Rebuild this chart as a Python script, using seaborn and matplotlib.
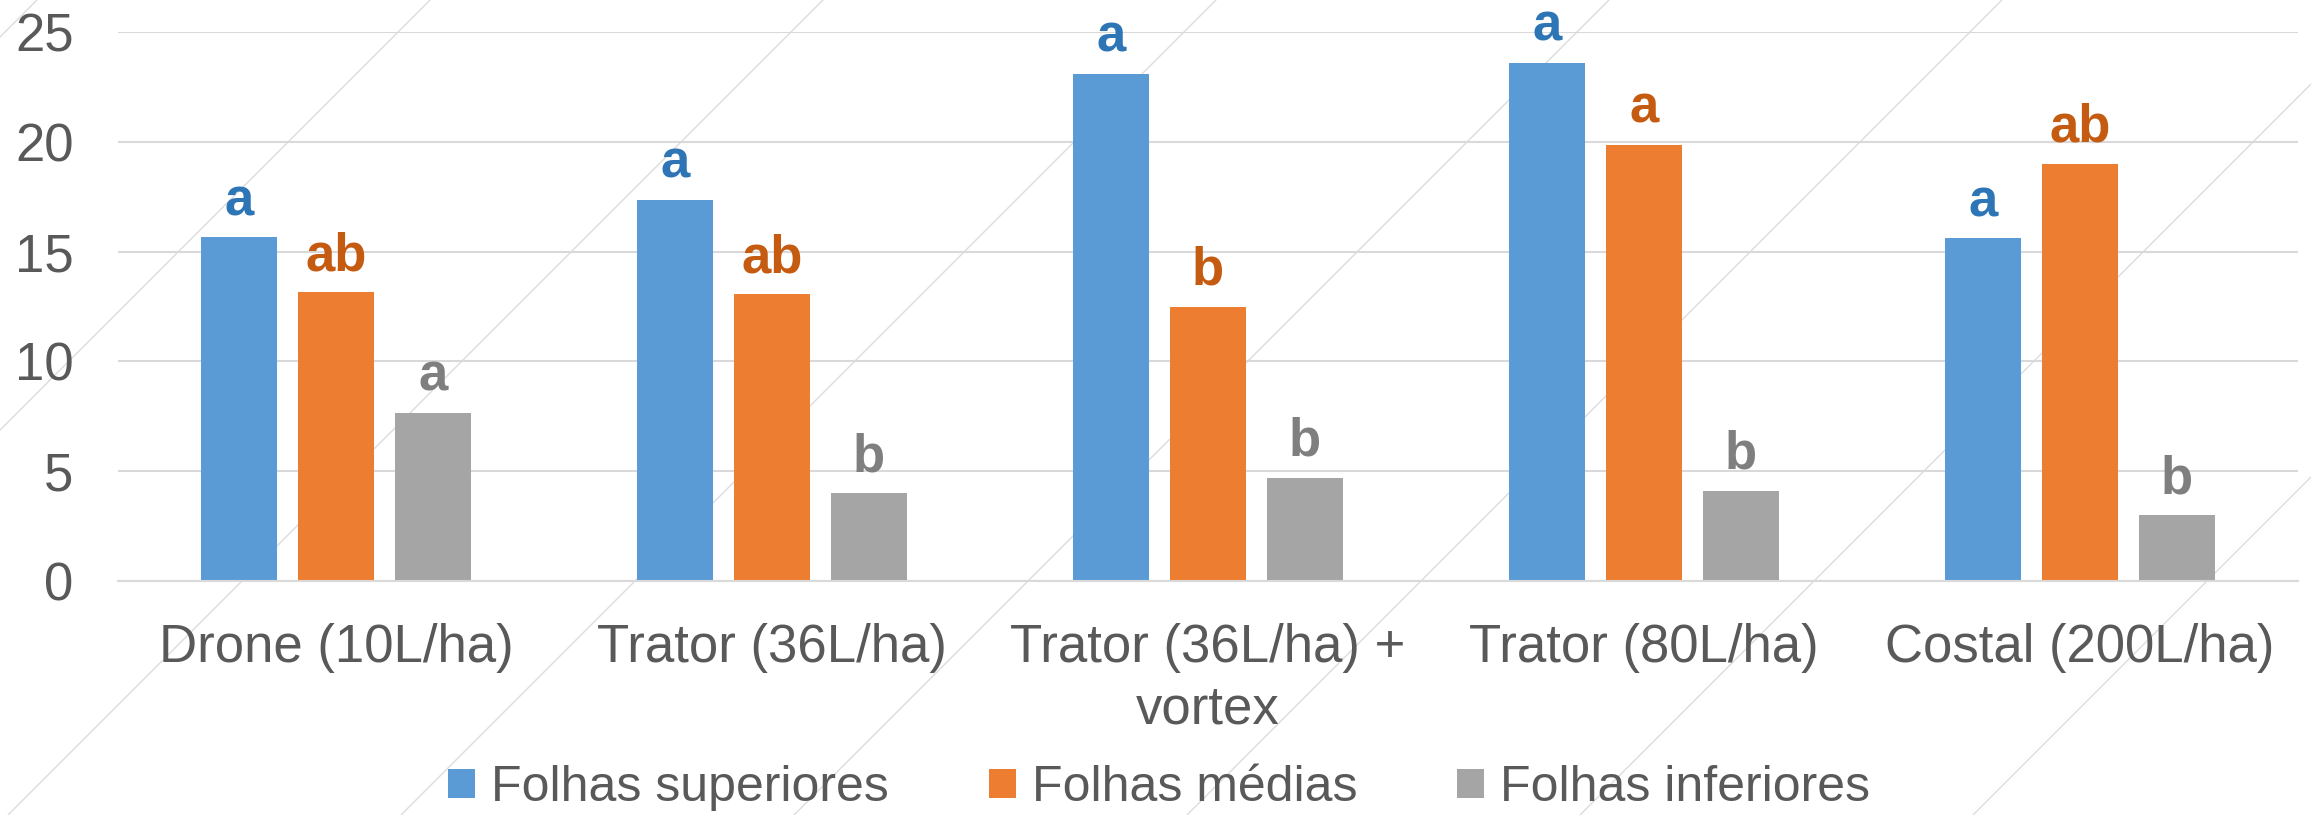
import matplotlib
matplotlib.use("Agg")
import matplotlib.pyplot as plt
from matplotlib.lines import Line2D
import pandas as pd
import seaborn as sns

# values
tratamentos = [
    "Drone (10L/ha)",
    "Trator (36L/ha)",
    "Trator (36L/ha) +\nvortex",
    "Trator (80L/ha)",
    "Costal (200L/ha)",
]
series = ["Folhas superiores", "Folhas médias", "Folhas inferiores"]
folhas_superiores = [15.65, 17.35, 23.1, 23.6, 15.6]
folhas_medias = [13.15, 13.05, 12.5, 19.85, 19.0]
folhas_inferiores = [7.65, 4.0, 4.7, 4.1, 3.0]
letras_superiores = ["a", "a", "a", "a", "a"]
letras_medias = ["ab", "ab", "b", "a", "ab"]
letras_inferiores = ["a", "b", "b", "b", "b"]
y_ticks = [0, 5, 10, 15, 20, 25]

cores = ["#5B9BD5", "#ED7D31", "#A5A5A5"]
cores_letras = ["#2E75B6", "#C55A11", "#7F7F7F"]
cinza_texto = "#595959"
cinza_grade = "#D9D9D9"

df = pd.DataFrame({
    "tratamento": tratamentos * 3,
    "folha": [s for s in series for _ in tratamentos],
    "valor": folhas_superiores + folhas_medias + folhas_inferiores,
})

sns.set_theme(style="white")
plt.rcParams["font.family"] = ["Liberation Sans", "DejaVu Sans"]

fig = plt.figure(figsize=(23.11, 8.15), dpi=100)
fig.patch.set_facecolor("white")

# faint diagonal hatch lines in the background of the image
W, H = 2311, 815
for k in range(9):
    c = 37 + 393 * k
    fig.add_artist(Line2D([c / W, (c - H) / W], [1, 0], color="#DCDCDC",
                          linewidth=1.0, zorder=-5, transform=fig.transFigure))

ax = fig.add_axes([118 / W, 1 - 581 / H, (2298 - 118) / W, (581 - 32) / H])
ax.patch.set_alpha(0)

sns.barplot(data=df, x="tratamento", y="valor", hue="folha", order=tratamentos,
            hue_order=series, palette=cores, saturation=1, width=0.666, gap=0.21,
            linewidth=0, ax=ax)

for cont, letras, cor in zip(ax.containers,
                             [letras_superiores, letras_medias, letras_inferiores],
                             cores_letras):
    ax.bar_label(cont, labels=letras, padding=8, color=cor, fontsize=38,
                 fontweight="bold")

handles, labels = ax.get_legend_handles_labels()
ax.get_legend().remove()
fig.legend(handles, labels, loc="center", bbox_to_anchor=(0.5015, 0.033), ncol=3,
           frameon=False, fontsize=36, labelcolor=cinza_texto, handlelength=0.54,
           handleheight=0.52, handletextpad=0.32, columnspacing=2.0,
           borderpad=0, borderaxespad=0)

ax.set_xlim(-0.5, 4.5)
ax.set_ylim(0, 25)
ax.set_yticks(y_ticks)
ax.set_xlabel("")
ax.set_ylabel("")
ax.yaxis.grid(True, color=cinza_grade, linewidth=1.5)
ax.set_axisbelow(True)
for side in ["top", "right", "left"]:
    ax.spines[side].set_visible(False)
ax.spines["bottom"].set_color(cinza_grade)
ax.spines["bottom"].set_linewidth(1.5)
ax.tick_params(axis="x", length=0, pad=30, labelsize=38, labelcolor=cinza_texto)
ax.tick_params(axis="y", length=0, pad=32, labelsize=38, labelcolor=cinza_texto)
for lbl in ax.get_xticklabels():
    lbl.set_linespacing(1.3)

fig.savefig("out.png", dpi=100)
